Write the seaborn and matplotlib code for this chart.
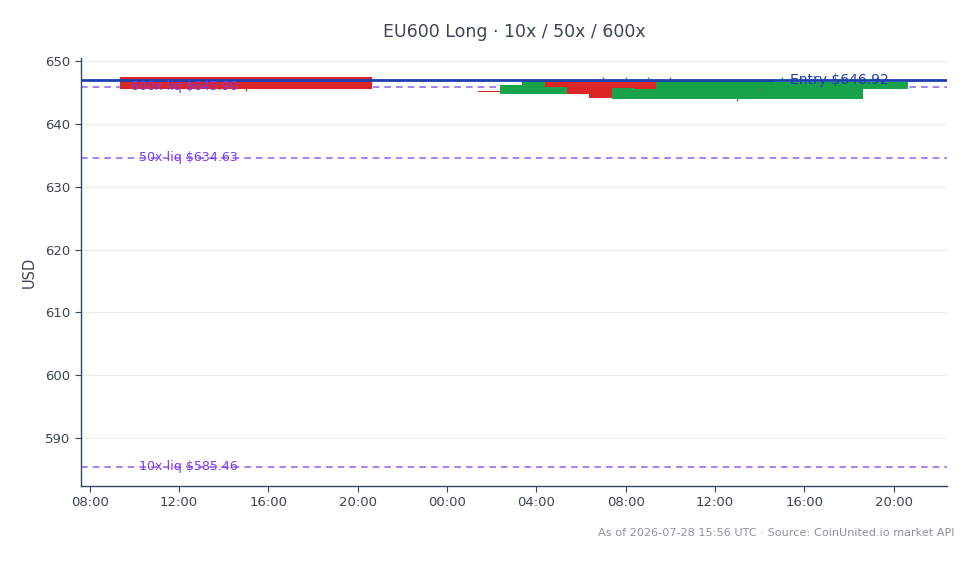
import matplotlib
matplotlib.use("Agg")
import matplotlib.pyplot as plt
import matplotlib.dates as mdates
import seaborn as sns
import pandas as pd
import numpy as np

# ---- data ----
times = ["2026-07-27 15:00", "2026-07-28 07:00", "2026-07-28 08:00", "2026-07-28 09:00",
         "2026-07-28 10:00", "2026-07-28 11:00", "2026-07-28 12:00", "2026-07-28 13:00",
         "2026-07-28 14:00", "2026-07-28 15:00"]
opens  = [647.45, 645.32, 644.75, 645.90, 646.66, 646.60, 646.60, 644.00, 646.66, 645.55]
closes = [645.60, 645.05, 646.23, 646.77, 645.90, 644.75, 644.20, 645.70, 645.55, 646.75]
highs  = [647.45, 647.45, 647.45, 647.45, 647.45, 646.80, 646.80, 645.90, 646.80, 647.45]
lows   = [645.20, 645.00, 644.70, 645.80, 645.80, 644.60, 644.10, 643.70, 645.55, 645.50]

entry_price = 646.92
liq_labels = ["10x", "50x", "600x"]
liq_prices = [585.46, 634.63, 645.90]

title = "EU600 Long · 10x / 50x / 600x"
footer = "As of 2026-07-28 15:56 UTC · Source: CoinUnited.io market API"

# ---- style ----
sns.set_theme(style="whitegrid")
TXT = "#3b4556"
plt.rcParams.update({
    "axes.edgecolor": "#334466",
    "axes.labelcolor": TXT,
    "xtick.color": TXT,
    "ytick.color": TXT,
    "grid.color": "#ececec",
    "grid.linewidth": 0.8,
})
plt.rcParams["font.family"] = ["DejaVu Sans"]

df = pd.DataFrame({"time": pd.to_datetime(times), "open": opens, "close": closes,
                   "high": highs, "low": lows})
df["up"] = df["close"] >= df["open"]

UP, DOWN = "#16a34a", "#dc2626"

fig = plt.figure(figsize=(9.79, 5.64), dpi=100)
ax = fig.add_axes([81 / 979, 1 - 486 / 564, 866 / 979, (486 - 58) / 564])

width = 0.4686  # days
for _, r in df.iterrows():
    c = UP if r["up"] else DOWN
    lo, hi = sorted([r["open"], r["close"]])
    ax.vlines(r["time"], r["low"], r["high"], color=c, linewidth=1, zorder=3)
    ax.bar(r["time"], hi - lo, bottom=lo, width=width, color=c, edgecolor="none", zorder=3)

# liquidation lines
LIQ_LINE = "#9b6cf0"
LIQ_TXT = "#7c3aed"
for lab, p in zip(liq_labels, liq_prices):
    ax.axhline(p, color=LIQ_LINE, linestyle=(0, (4, 3)), linewidth=1.2, zorder=2)
    ax.text(0.181, p, f"{lab} liq ${p:.2f}", transform=ax.get_yaxis_transform(),
            ha="right", va="center", color=LIQ_TXT, fontsize=9.1, zorder=6)

# entry line
ax.axhline(entry_price, color="#1e40af", linewidth=2, zorder=4)
ax.text(0.933, entry_price, f"Entry ${entry_price:.2f}", transform=ax.get_yaxis_transform(),
        ha="right", va="center", color="#1e40af", fontsize=10, zorder=6)

ax.set_ylim(582.36, 650.5)
ax.set_yticks([590, 600, 610, 620, 630, 640, 650])
ax.xaxis.set_major_locator(mdates.HourLocator(byhour=[0, 4, 8, 12, 16, 20]))
ax.xaxis.set_major_formatter(mdates.DateFormatter("%H:%M"))
ax.grid(axis="x", visible=False)
ax.grid(axis="y", visible=True)
ax.set_axisbelow(True)
for s in ["top", "right"]:
    ax.spines[s].set_visible(False)
for s in ["left", "bottom"]:
    ax.spines[s].set_linewidth(1.0)
ax.tick_params(axis="both", which="major", length=4, width=0.8, labelsize=9.5,
               color="#334466", bottom=True, left=True)
ax.set_ylabel("USD", fontsize=10.5, labelpad=6)
ax.set_xlabel("")

fig.text(514 / 979, 1 - 32 / 564, title, ha="center", va="center", fontsize=12.5, color=TXT)
fig.text(955 / 979, 1 - 533 / 564, footer, ha="right", va="center", fontsize=8.15, color="#8a93a3")

fig.savefig("out.png", dpi=100)
